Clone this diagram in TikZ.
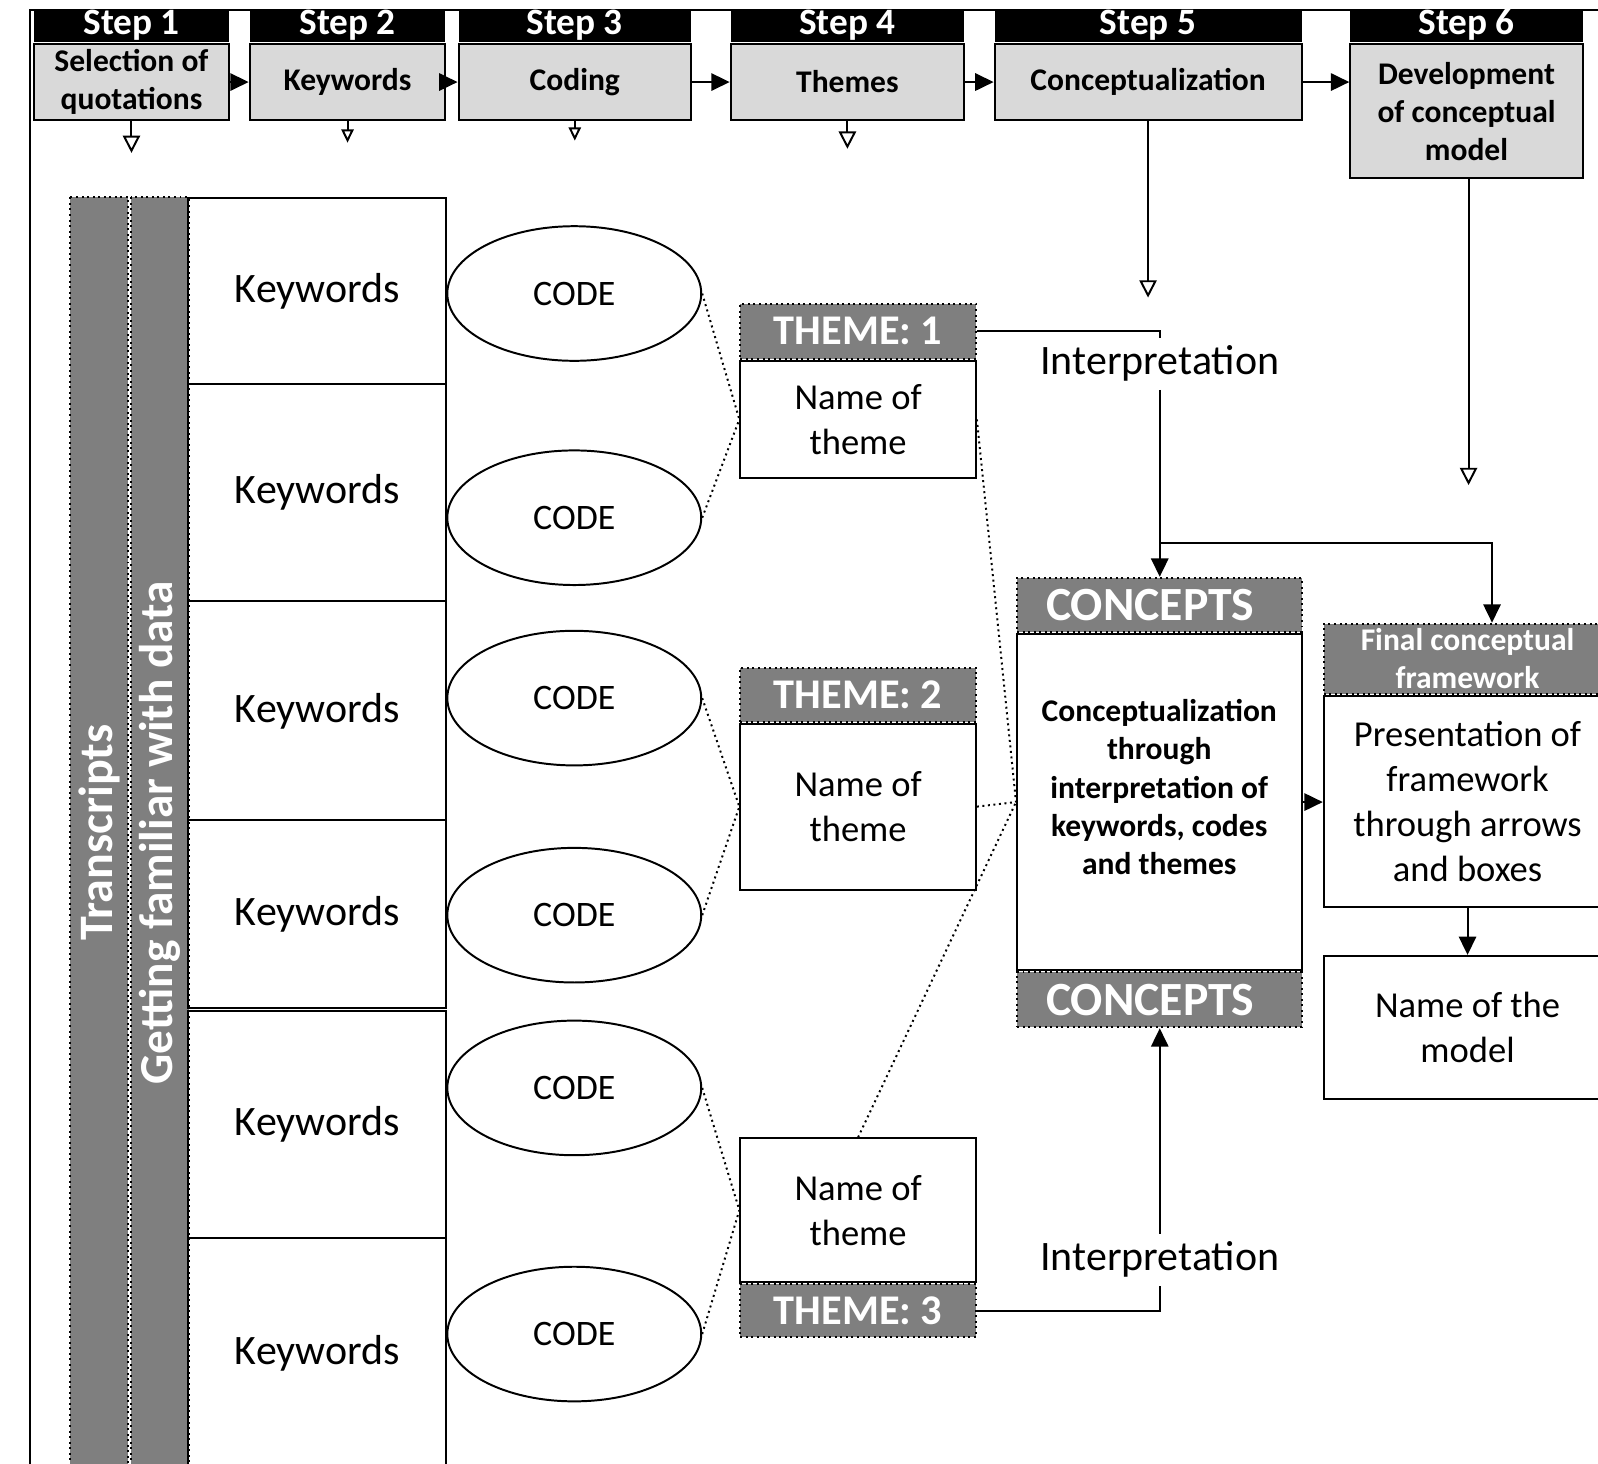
\documentclass[tikz,border=0pt]{standalone}
\usepackage{fontspec}
\setmainfont{Carlito}
\usetikzlibrary{positioning,arrows.meta,shapes.geometric}
\definecolor{headgray}{HTML}{7F7F7F}
\definecolor{boxgray}{HTML}{D9D9D9}
\begin{document}
\begin{tikzpicture}[x=0.01cm,y=-0.01cm,line width=0.55pt,
    stephead/.style={fill=black,text=white,font=\bfseries\fontsize{10.4}{12}\selectfont,
      minimum height=0.31cm,text height=6.5pt,text depth=1.5pt,inner sep=0},
    stepbox/.style={draw,fill=boxgray,font=\bfseries\fontsize{8.8}{10.6}\selectfont,align=center,inner sep=0},
    kwbox/.style={draw,minimum width=2.53cm,font=\fontsize{11.7}{14}\selectfont},
    codeell/.style={draw,ellipse,minimum width=2.49cm,minimum height=1.32cm,font=\fontsize{10}{12}\selectfont},
    darkhead/.style={draw,densely dotted,fill=headgray,text=white,inner sep=0,align=center},
    namebox/.style={draw,align=center,font=\fontsize{10.2}{12.5}\selectfont},
    interp/.style={font=\fontsize{11.7}{14}\selectfont,inner sep=2pt},
    link/.style={densely dotted},
    arr/.style={-{Triangle[length=0.18cm,width=0.17cm]}},
    openarr/.style={-{Triangle[open,length=0.17cm,width=0.17cm]}},
    smallopen/.style={-{Triangle[open,length=0.13cm,width=0.12cm]}},
  ]
    \useasboundingbox (0,0) rectangle (1568,1436);
    \draw (29,1440) -- (29,10) -- (1570,10);

    % steps
    \node[stepbox,minimum width=1.92cm,minimum height=0.75cm] (s1) at (129,80.5) {Selection of\\quotations};
    \node[stepbox,minimum width=1.92cm,minimum height=0.75cm] (s2) at (341,80.5) {Keywords};
    \node[stepbox,minimum width=2.28cm,minimum height=0.75cm] (s3) at (564,80.5) {Coding};
    \node[stepbox,minimum width=2.29cm,minimum height=0.75cm] (s4) at (831.5,80.5) {Themes};
    \node[stepbox,minimum width=3.01cm,minimum height=0.75cm] (s5) at (1126.5,80.5) {Conceptualization};
    \node[stepbox,minimum width=2.28cm,minimum height=1.32cm] (s6) at (1439,109) {Development\\of conceptual\\model};
    \node[stephead,minimum width=1.92cm,above=0pt of s1] (s1h) {Step 1};
    \node[stephead,minimum width=1.92cm,above=0pt of s2] (s2h) {Step 2};
    \node[stephead,minimum width=2.28cm,above=0pt of s3] (s3h) {Step 3};
    \node[stephead,minimum width=2.29cm,above=0pt of s4] (s4h) {Step 4};
    \node[stephead,minimum width=3.01cm,above=0pt of s5] (s5h) {Step 5};
    \node[stephead,minimum width=2.28cm,above=0pt of s6] (s6h) {Step 6};
    \draw[arr] (s1) -- (s2);
    \draw[arr] (s2) -- (s3);
    \draw[arr] (s3) -- (s4);
    \draw[arr] (s4) -- (s5);
    \draw[arr] (s5.east) -- (s5.east -| s6.west);
    \coordinate (d1) at (129,150);
    \coordinate (d2) at (341,140);
    \coordinate (d3) at (564,138);
    \coordinate (d4) at (831.5,146);
    \coordinate (d5) at (1126.5,292);
    \coordinate (d6) at (1441,476);
    \draw[openarr] (s1) -- (d1);
    \draw[smallopen] (s2) -- (d2);
    \draw[smallopen] (s3) -- (d3);
    \draw[openarr] (s4) -- (d4);
    \draw[openarr] (s5) -- (d5);
    \draw[openarr] (s6.south -| d6) -- (d6);

    % data columns
    \node[darkhead,minimum width=12.46cm,minimum height=0.57cm,rotate=90,
      font=\bfseries\fontsize{13.4}{16}\selectfont] (trbar) at (97.5,817) {Transcripts};
    \node[darkhead,minimum width=12.46cm,minimum height=0.56cm,rotate=90,
      font=\bfseries\fontsize{13.2}{16}\selectfont] (gfbar) at (157,817) {Getting familiar with data};
    \foreach \n/\cy/\h in {1/285.5/1.83,2/483.5/2.13,3/697.5/2.15,4/897/1.84,5/1103.5/2.23,6/1327.5/2.25}
      \node[kwbox,minimum height=\h cm] (k\n) at (311.5,\cy) {Keywords};
    \foreach \n/\cy in {1/288,2/508,3/685,4/898,5/1067.5,6/1309}
      \node[codeell] (c\n) at (563.5,\cy) {CODE};

    % themes
    \node[namebox,minimum width=2.31cm,minimum height=1.15cm] (t1) at (842,411.5) {Name of\\theme};
    \node[darkhead,minimum width=2.31cm,minimum height=0.54cm,above=0pt of t1,
      font=\bfseries\fontsize{11.8}{14}\selectfont] (t1h) {THEME: 1};
    \node[namebox,minimum width=2.31cm,minimum height=1.63cm] (t2) at (842,791.5) {Name of\\theme};
    \node[darkhead,minimum width=2.31cm,minimum height=0.53cm,above=0pt of t2,
      font=\bfseries\fontsize{11.8}{14}\selectfont] (t2h) {THEME: 2};
    \node[namebox,minimum width=2.31cm,minimum height=1.41cm] (t3) at (842,1187.5) {Name of\\theme};
    \node[darkhead,minimum width=2.31cm,minimum height=0.52cm,below=0pt of t3,
      font=\bfseries\fontsize{11.8}{14}\selectfont] (t3h) {THEME: 3};
    \foreach \a/\b in {c1/t1,c2/t1,c3/t2,c4/t2,c5/t3,c6/t3}
      \draw[link] (\a.east) -- (\b.west);

    % concepts
    \node[draw,minimum width=2.79cm,minimum height=3.30cm,align=center,
      font=\bfseries\fontsize{8.8}{10.7}\selectfont] (cbody) at (1137.5,787)
      {Conceptualization\\through\\interpretation of\\keywords, codes\\and themes\\[-0.08cm]};
    \node[darkhead,minimum width=2.79cm,minimum height=0.53cm,above=0pt of cbody,
      font=\bfseries\fontsize{13.3}{16}\selectfont] (ch1) {CONCEPTS\hspace{0.18cm}};
    \node[darkhead,minimum width=2.79cm,minimum height=0.54cm,below=0pt of cbody,
      font=\bfseries\fontsize{13.3}{16}\selectfont] (ch2) {CONCEPTS\hspace{0.18cm}};
    \foreach \a in {t1.east,t2.east,t3.north}
      \draw[link] (\a) -- (cbody.west);

    % final framework
    \node[namebox,minimum width=2.82cm,minimum height=2.07cm] (fbody) at (1440,786.5)
      {Presentation of\\framework\\through arrows\\and boxes};
    \node[darkhead,minimum width=2.82cm,minimum height=0.69cm,above=0pt of fbody,
      font=\bfseries\fontsize{8.8}{10.5}\selectfont] (fh) {Final conceptual\\framework};
    \node[namebox,minimum width=2.82cm,minimum height=1.40cm] (model) at (1440,1008) {Name of the\\model};

    % interpretation links
    \node[interp] (i1) at (1138,357) {Interpretation};
    \node[interp] (i2) at (1138,1236) {Interpretation};
    \draw (t1h.east) -| (i1.north);
    \draw[arr] (i1.south) -- (i1.south |- ch1.north);
    \coordinate (br) at (1138,533);
    \draw[arr] (br) -| ([xshift=0.24cm]fh.north);
    \draw (t3h.east) -| (i2.south);
    \draw[arr] (i2.north) -- (i2.north |- ch2.south);
    \draw[arr] (cbody.east) -- (cbody.east -| fbody.west);
    \draw[arr] (fbody) -- (model);
  \end{tikzpicture}
\end{document}
